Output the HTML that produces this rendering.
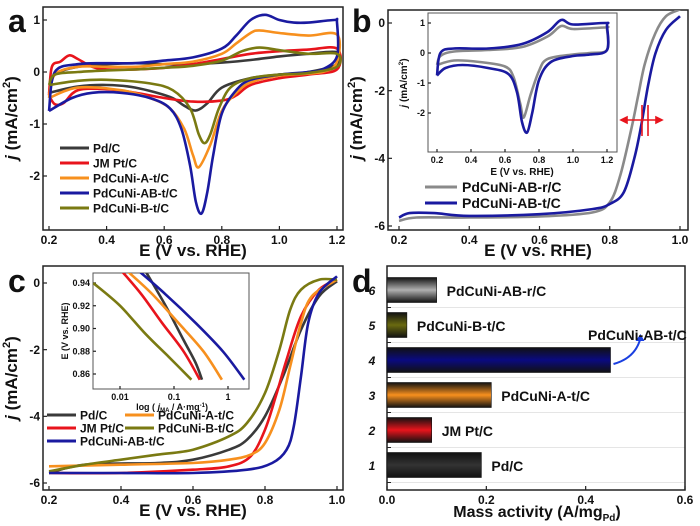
<!DOCTYPE html>
<html><head><meta charset="utf-8"><style>
body{margin:0;background:#fff}
svg{display:block;font-family:"Liberation Sans",sans-serif}
text{font-weight:bold}
</style></head><body>
<svg id="fig" width="700" height="526" viewBox="0 0 700 526">
<defs>
<clipPath id="ca"><rect x="43" y="7" width="300" height="223"/></clipPath>
<clipPath id="cb"><rect x="388" y="10" width="300" height="220"/></clipPath>
<clipPath id="cbi"><rect x="428" y="13" width="189" height="139"/></clipPath>
<clipPath id="cc"><rect x="43" y="266" width="300" height="224"/></clipPath>
<clipPath id="cci"><rect x="93" y="273" width="156" height="116"/></clipPath>
</defs>
</svg>
<script>
// ---- Panel a data (CV loops) ----
const aNames=["Pd/C","JM Pt/C","PdCuNi-A-t/C","PdCuNi-AB-t/C","PdCuNi-B-t/C"];
const aColors=["#3a3a3a","#e8141c","#f7901e","#1a1aa0","#7a7a12"];
const aPdE=[0.2,0.22,0.3,0.4,0.5,0.6,0.7,0.8,0.9,1.0,1.1,1.2,1.2,1.1,1.0,0.9,0.8,0.75,0.71,0.67,0.62,0.5,0.4,0.3,0.2];
const aPdJ=[-0.4,-0.05,0.1,0.15,0.17,0.15,0.15,0.18,0.23,0.3,0.35,0.38,0.15,0,-0.05,-0.12,-0.3,-0.6,-0.74,-0.65,-0.48,-0.3,-0.25,-0.28,-0.4];
const aPtE=[0.2,0.21,0.24,0.27,0.3,0.35,0.4,0.5,0.6,0.7,0.8,0.9,1.0,1.1,1.2,1.2,1.1,1.0,0.9,0.85,0.8,0.7,0.6,0.5,0.4,0.3,0.25,0.22,0.2];
const aPtJ=[-0.45,0.1,0.2,0.32,0.25,0.1,0.05,0.05,0.08,0.15,0.25,0.35,0.4,0.43,0.45,0.05,-0.05,-0.12,-0.25,-0.45,-0.55,-0.57,-0.5,-0.4,-0.33,-0.35,-0.6,-0.62,-0.45];
const aAE=[0.2,0.22,0.3,0.4,0.5,0.6,0.7,0.8,0.85,0.9,0.93,1.0,1.1,1.2,1.2,1.15,1.0,0.9,0.85,0.8,0.76,0.72,0.7,0.67,0.62,0.55,0.45,0.3,0.2];
const aAJ=[-0.5,-0.05,0.1,0.1,0.1,0.15,0.2,0.35,0.55,0.75,0.8,0.75,0.7,0.72,0.2,0,-0.07,-0.2,-0.4,-0.75,-1.4,-1.83,-1.6,-1.1,-0.7,-0.5,-0.35,-0.3,-0.5];
const aABE=[0.2,0.22,0.3,0.4,0.5,0.6,0.7,0.8,0.85,0.9,0.95,1.0,1.05,1.1,1.19,1.2,1.2,1.15,1.1,1.0,0.9,0.85,0.8,0.77,0.75,0.73,0.71,0.69,0.66,0.62,0.55,0.45,0.35,0.28,0.2];
const aABJ=[-0.75,0,0.15,0.17,0.17,0.22,0.28,0.45,0.7,1.0,1.1,1.0,0.95,0.95,1.0,0.95,0.3,0.05,0,-0.05,-0.15,-0.35,-0.8,-1.6,-2.3,-2.72,-2.5,-1.8,-1.1,-0.7,-0.5,-0.4,-0.4,-0.5,-0.75];
const aBE=[0.2,0.22,0.3,0.4,0.5,0.6,0.7,0.8,0.87,0.93,1.0,1.1,1.2,1.2,1.1,1.0,0.9,0.83,0.79,0.76,0.74,0.72,0.69,0.63,0.55,0.4,0.3,0.2];
const aBJ=[-0.25,-0.05,0,0.03,0.05,0.08,0.12,0.22,0.4,0.47,0.42,0.35,0.35,0.1,-0.02,-0.05,-0.12,-0.3,-0.7,-1.2,-1.37,-1.2,-0.7,-0.35,-0.22,-0.15,-0.17,-0.25];
const aXTicks=[0.2,0.4,0.6,0.8,1.0,1.2];
const aYTicks=[1,0,-1,-2];
// ---- Panel b data ----
const bNames=["PdCuNi-AB-r/C","PdCuNi-AB-t/C"];
const bColors=["#8a8a8a","#1a1aa0"];
const bRE=[0.2,0.25,0.4,0.6,0.75,0.8,0.83,0.86,0.88,0.9,0.93,0.96,1.0];
const bRJ=[-5.85,-5.75,-5.75,-5.72,-5.6,-5.3,-4.5,-3.2,-2.2,-1.2,-0.3,0.2,0.4];
const bTE=[0.2,0.23,0.3,0.4,0.6,0.75,0.8,0.84,0.87,0.89,0.91,0.93,0.96,1.0];
const bTJ=[-5.75,-5.62,-5.62,-5.7,-5.65,-5.5,-5.35,-5.0,-4.0,-3.0,-1.8,-0.9,-0.2,0.2];
const biRE=[0.2,0.22,0.3,0.5,0.7,0.85,0.93,1.0,1.19,1.2,1.2,1.1,1.0,0.85,0.8,0.75,0.71,0.69,0.65,0.6,0.45,0.3,0.2];
const biRJ=[-0.4,-0.1,0.05,0.1,0.2,0.55,0.9,0.8,0.85,0.8,0.1,0,-0.05,-0.2,-0.6,-1.4,-2.15,-1.7,-0.8,-0.45,-0.3,-0.25,-0.4];
const biTE=[0.2,0.22,0.3,0.5,0.7,0.85,0.93,1.0,1.19,1.2,1.2,1.1,1.0,0.87,0.8,0.76,0.73,0.7,0.67,0.62,0.5,0.35,0.25,0.2];
const biTJ=[-0.75,0,0.15,0.15,0.3,0.7,1.1,0.95,1.0,0.9,0.1,-0.05,-0.1,-0.3,-0.9,-2,-2.65,-2.3,-1.3,-0.7,-0.5,-0.4,-0.5,-0.75];
const bXTicks=[0.2,0.4,0.6,0.8,1.0];
const bYTicks=[0,-2,-4,-6];
const biXTicks=[0.2,0.4,0.6,0.8,1.0,1.2];
const biYTicks=[1,0,-1,-2];
// ---- Panel c data ----
const cNames=["Pd/C","JM Pt/C","PdCuNi-A-t/C","PdCuNi-B-t/C","PdCuNi-AB-t/C"];
const cColors=["#3a3a3a","#e8141c","#f7901e","#7a7a12","#1a1aa0"];
const cPdE=[0.2,0.3,0.5,0.6,0.7,0.75,0.8,0.85,0.9,0.95,1.0];
const cPdJ=[-5.7,-5.45,-5.4,-5.3,-5.0,-4.7,-4.0,-2.8,-1.4,-0.4,0.05];
const cPtE=[0.2,0.4,0.6,0.7,0.76,0.8,0.83,0.86,0.9,0.95,1.0];
const cPtJ=[-5.7,-5.7,-5.6,-5.5,-5.2,-4.4,-3.4,-2.3,-1.0,-0.2,0.1];
const cAE=[0.2,0.4,0.6,0.7,0.76,0.8,0.84,0.87,0.9,0.93,1.0];
const cAJ=[-5.5,-5.45,-5.4,-5.3,-5.15,-4.8,-3.8,-2.5,-1.2,-0.4,0.1];
const cBE=[0.2,0.3,0.4,0.5,0.6,0.7,0.75,0.8,0.84,0.87,0.9,0.95,1.0];
const cBJ=[-5.65,-5.45,-5.3,-5.15,-5.0,-4.6,-4.2,-3.3,-2.0,-0.8,-0.2,0.1,0.1];
const cABE=[0.2,0.4,0.6,0.75,0.82,0.86,0.88,0.9,0.92,0.95,1.0];
const cABJ=[-5.7,-5.7,-5.7,-5.6,-5.4,-5.0,-4.3,-2.8,-1.2,-0.3,0.2];
const ciPdX=[0.03,0.07,0.15,0.25,0.33], ciPdY=[0.95,0.92,0.89,0.87,0.855];
const ciPtX=[0.011,0.025,0.06,0.15,0.3], ciPtY=[0.95,0.93,0.905,0.88,0.855];
const ciAX=[0.014,0.04,0.12,0.35,0.77], ciAY=[0.95,0.93,0.905,0.88,0.855];
const ciBX=[0.0032,0.01,0.03,0.08,0.21], ciBY=[0.94,0.92,0.895,0.875,0.855];
const ciABX=[0.023,0.07,0.25,0.8,2.0], ciABY=[0.95,0.93,0.905,0.88,0.855];
const cXTicks=[0.2,0.4,0.6,0.8,1.0];
const cYTicks=[0,-2,-4,-6];
const ciXTicks=[0.01,0.1,1];
const ciYTicks=[0.94,0.92,0.90,0.88,0.86];
// ---- Panel d data ----
const dCats=["1","2","3","4","5","6"];
const dNames=["Pd/C","JM Pt/C","PdCuNi-A-t/C","PdCuNi-AB-t/C","PdCuNi-B-t/C","PdCuNi-AB-r/C"];
const dValues=[0.19,0.09,0.21,0.45,0.04,0.10];
const dColors=["#333333","#e8141c","#f7901e","#0a0a80","#6a6a10","#b0b0b0"];
const dXTicks=[0.0,0.2,0.4,0.6];

const NS="http://www.w3.org/2000/svg";
const svg=document.getElementById('fig');
function mk(tag,attrs,parent){const e=document.createElementNS(NS,tag);for(const k in attrs)e.setAttribute(k,attrs[k]);(parent||svg).appendChild(e);return e;}
function txt(s,x,y,size,anchor,parent,extra){const t=mk('text',Object.assign({x:x,y:y,'font-size':size,'text-anchor':anchor||'middle',fill:'#111'},extra||{}),parent);t.textContent=s;return t;}
function lin(d0,d1,r0,r1){return v=>r0+(v-d0)*(r1-r0)/(d1-d0);}
function smooth(pts){let d='M'+pts[0][0].toFixed(1)+','+pts[0][1].toFixed(1);
 for(let i=0;i<pts.length-1;i++){const p0=pts[i-1]||pts[i],p1=pts[i],p2=pts[i+1],p3=pts[i+2]||p2;
 const c1=[p1[0]+(p2[0]-p0[0])/6,p1[1]+(p2[1]-p0[1])/6],c2=[p2[0]-(p3[0]-p1[0])/6,p2[1]-(p3[1]-p1[1])/6];
 d+='C'+c1[0].toFixed(1)+','+c1[1].toFixed(1)+' '+c2[0].toFixed(1)+','+c2[1].toFixed(1)+' '+p2[0].toFixed(1)+','+p2[1].toFixed(1);}
 return d;}
function series(xs,ys,fx,fy,color,w,clip,name,parent){const pts=xs.map((v,i)=>[fx(v),fy(ys[i])]);
 const p=mk('path',{d:smooth(pts),fill:'none',stroke:color,'stroke-width':w,'stroke-linejoin':'round','clip-path':'url(#'+clip+')'},parent);
 
 return p;}
function box(x,y,w,h,name){const r=mk('rect',{x:x,y:y,width:w,height:h,fill:'none',stroke:'#222','stroke-width':1.5});
 
 }
function xticks(ticks,fx,yb,fmt,size,name,len){const g=mk('g',{});
 
 
 ticks.forEach(v=>{mk('line',{x1:fx(v),x2:fx(v),y1:yb,y2:yb-(len||4),stroke:'#222','stroke-width':1.2},g);txt(fmt(v),fx(v),yb+size+2,size,'middle',g);});}
function yticks(ticks,fy,xl,fmt,size,name,len){const g=mk('g',{});
 
 
 ticks.forEach(v=>{mk('line',{x1:xl,x2:xl+(len||4),y1:fy(v),y2:fy(v),stroke:'#222','stroke-width':1.2},g);txt(fmt(v),xl-3,fy(v)+size*0.35,size,'end',g);});}
function ytitle(x,y,size,name){const t=mk('text',{x:x,y:y,'font-size':size,'text-anchor':'middle',fill:'#111',transform:'rotate(-90 '+x+' '+y+')'});
 t.innerHTML='<tspan font-style="italic">j</tspan> (mA/cm<tspan font-size="'+(size*0.65)+'" dy="-'+(size*0.4)+'">2</tspan><tspan dy="'+(size*0.4)+'">)</tspan>';
 
 }
function panelLetter(s,x,y,name){const t=txt(s,x,y,32,'start');
 
 }
const f1=v=>v.toFixed(1), f0=v=>String(v);

// ===== Panel a =====
const ax=lin(0.2,1.2,49,337), ay=lin(0,1,72,20);
box(43,7,300,223,'panel-a-frame');
xticks(aXTicks,ax,230,f1,12,'panel-a-x-ticks');
yticks(aYTicks,ay,43,f0,12,'panel-a-y-ticks');
const aE=[aPdE,aPtE,aAE,aABE,aBE], aJ=[aPdJ,aPtJ,aAJ,aABJ,aBJ];
aE.forEach((e,i)=>series(e,aJ[i],ax,ay,aColors[i],2.6,'ca','panel-a-series-'+i));
let t=txt('E (V vs. RHE)',193,256,17,'middle');
ytitle(17,118,17,'panel-a-y-title');
panelLetter('a',8,32,'panel-a-letter');
const aLegY=[148,163,178,193,208];
aNames.forEach((n,i)=>{const g=mk('g',{});
 
 
 mk('line',{x1:60,x2:89,y1:aLegY[i],y2:aLegY[i],stroke:aColors[i],'stroke-width':3},g);txt(n,93,aLegY[i]+4.5,12,'start',g);});

// ===== Panel b =====
const bx=lin(0.2,1.0,399,680), by=lin(0,-6,23,226);
box(388,10,300,220,'panel-b-frame');
xticks(bXTicks,bx,230,f1,12,'panel-b-x-ticks');
yticks(bYTicks,by,388,f0,12,'panel-b-y-ticks');
series(bRE,bRJ,bx,by,bColors[0],2.6,'cb','panel-b-series-r');
series(bTE,bTJ,bx,by,bColors[1],2.6,'cb','panel-b-series-t');
t=txt('E (V vs. RHE)',538,256,17,'middle');
ytitle(362,118,17,'panel-b-y-title');
panelLetter('b',352,32,'panel-b-letter');
[187,203].forEach((y,i)=>{const g=mk('g',{});
 
 
 mk('line',{x1:425,x2:457,y1:y,y2:y,stroke:bColors[i],'stroke-width':3},g);txt(bNames[i],462,y+5,14,'start',g);});
const mg=mk('g',{stroke:'#e8141c','stroke-width':1.6,fill:'#e8141c'});


mk('line',{x1:621,x2:662,y1:120,y2:120},mg);mk('line',{x1:642,x2:642,y1:105,y2:136},mg);mk('line',{x1:648,x2:648,y1:105,y2:136},mg);
mk('path',{d:'M621,120 l6,-3 v6z'},mg);mk('path',{d:'M662,120 l-6,-3 v6z'},mg);
const bix=lin(0.2,1.2,437,607), biy=lin(1,-2,23,113);
mk('rect',{x:428,y:13,width:189,height:139,fill:'#fff',stroke:'#555','stroke-width':1});
xticks(biXTicks,bix,152,f1,9,'panel-b-inset-x-ticks',3);
yticks(biYTicks,biy,428,f0,9,'panel-b-inset-y-ticks',3);
series(biRE,biRJ,bix,biy,bColors[0],2.6,'cbi','panel-b-inset-series-r');
series(biTE,biTJ,bix,biy,bColors[1],2.6,'cbi','panel-b-inset-series-t');
t=txt('E (V vs. RHE)',522,175,10,'middle');
ytitle(407,83,10,'panel-b-inset-y-title');

// ===== Panel c =====
const cx=lin(0.2,1.0,49,337), cy=lin(0,-6,283,483);
box(43,266,300,224,'panel-c-frame');
xticks(cXTicks,cx,490,f1,12,'panel-c-x-ticks');
yticks(cYTicks,cy,43,f0,12,'panel-c-y-ticks');
const cE=[cPdE,cPtE,cAE,cBE,cABE], cJ=[cPdJ,cPtJ,cAJ,cBJ,cABJ];
cE.forEach((e,i)=>series(e,cJ[i],cx,cy,cColors[i],2.6,'cc','panel-c-series-'+i));
t=txt('E (V vs. RHE)',193,516,17,'middle');
ytitle(17,378,17,'panel-c-y-title');
panelLetter('c',8,292,'panel-c-letter');
const cLeg=[[47,415],[47,428],[125,415],[125,428],[47,441]];
cNames.forEach((n,i)=>{const g=mk('g',{});
 
 
 const p=cLeg[i];mk('line',{x1:p[0],x2:p[0]+29,y1:p[1],y2:p[1],stroke:cColors[i],'stroke-width':3},g);txt(n,p[0]+33,p[1]+4.5,12,'start',g);});
const lx=v=>lin(-2,0,120,228)(Math.log10(v)), ly=lin(0.94,0.86,283,374);
mk('rect',{x:93,y:273,width:156,height:116,fill:'#fff',stroke:'#555','stroke-width':1});
xticks(ciXTicks,lx,389,v=>String(v),9,'panel-c-inset-x-ticks',3);
yticks(ciYTicks,ly,93,v=>v.toFixed(2),9,'panel-c-inset-y-ticks',3);
const ciX=[ciPdX,ciPtX,ciAX,ciBX,ciABX], ciY=[ciPdY,ciPtY,ciAY,ciBY,ciABY];
ciX.forEach((xs,i)=>series(xs,ciY[i],lx,ly,cColors[i],2.6,'cci','panel-c-inset-series-'+i));
t=mk('text',{x:172,y:410,'font-size':9,'text-anchor':'middle',fill:'#111'});
t.innerHTML='log ( <tspan font-style="italic">j</tspan><tspan font-size="6" dy="2">MA</tspan><tspan dy="-2"> / A·mg</tspan><tspan font-size="6" dy="-3">-1</tspan><tspan dy="3">)</tspan>';


t=mk('text',{x:68,y:331,'font-size':9,'text-anchor':'middle',fill:'#111',transform:'rotate(-90 68 331)'});t.textContent='E (V vs. RHE)';



// ===== Panel d =====
const dx=lin(0,0.6,387,685), dy=lin(1,6,465,290);
mk('defs',{}).innerHTML=dColors.map((c,i)=>'<linearGradient id="g'+i+'" x1="0" y1="0" x2="0" y2="1"><stop offset="0" stop-color="#111"/><stop offset="0.5" stop-color="'+c+'"/><stop offset="1" stop-color="#111"/></linearGradient>').join('');
[0.5,1.5,2.5,3.5,4.5,5.5].forEach(v=>mk('line',{x1:387,x2:685,y1:dy(v+0.5)+17.5,y2:dy(v+0.5)+17.5,stroke:'#ddd','stroke-width':0.8}));
box(387,266,298,224,'panel-d-frame');
xticks(dXTicks,dx,490,f1,12,'panel-d-x-ticks');
dCats.forEach((c,i)=>{const y=dy(+c);
 const r=mk('rect',{x:dx(0),y:y-12.5,width:dx(dValues[i])-dx(0),height:25,fill:'url(#g'+i+')',stroke:'#111','stroke-width':0.6});
 
 
 const l=txt(c,372,y+5,12,'middle',null,{'font-style':'italic','font-weight':'normal'});
 
 
 mk('line',{x1:387,x2:391,y1:y+17.5,y2:y+17.5,stroke:'#222'});
 if(i!==3){const b=txt(dNames[i],dx(dValues[i])+10,y+6,14,'start');
  
  }
});
const y4=dy(4);
const arr=mk('path',{d:'M'+(dx(dValues[3])+3)+','+(y4+4)+' Q'+(dx(dValues[3])+25)+','+(y4-2)+' '+(dx(dValues[3])+30)+','+(y4-22),fill:'none',stroke:'#1a3fe0','stroke-width':2});


mk('path',{d:'M'+(dx(dValues[3])+30)+','+(y4-26)+' l-5,7 l9,0z',fill:'#1a3fe0'});
t=txt(dNames[3],588,340,14,'start');
t=mk('text',{x:537,y:517,'font-size':16,'text-anchor':'middle',fill:'#111'});
t.innerHTML='Mass activity (A/mg<tspan font-size="10" dy="4">Pd</tspan><tspan dy="-4">)</tspan>';


panelLetter('d',352,292,'panel-d-letter');
</script>
</body></html>
